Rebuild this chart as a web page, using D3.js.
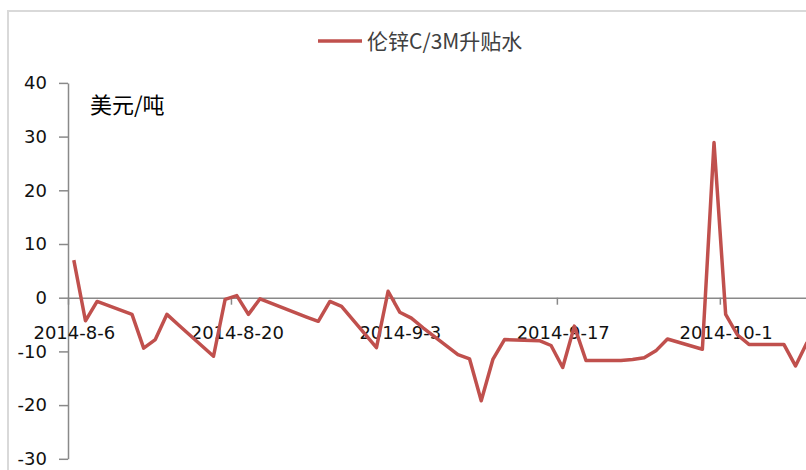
<!DOCTYPE html>
<html>
<head>
<meta charset="utf-8">
<script src="https://cdn.jsdelivr.net/npm/d3@7"></script>
<style>
    body { margin: 0; background: #fff; }
    svg { display: block; }
</style>
</head>
<body>
<div class="forSvg"></div>
<script>
// -DATA-
// trading days (LME)
const dates = ["2014-8-6", "2014-8-7", "2014-8-8", "2014-8-11", "2014-8-12", "2014-8-13", "2014-8-14", "2014-8-15",
               "2014-8-18", "2014-8-19", "2014-8-20", "2014-8-21", "2014-8-22", "2014-8-26", "2014-8-27", "2014-8-28",
               "2014-8-29", "2014-9-1", "2014-9-2", "2014-9-3", "2014-9-4", "2014-9-5", "2014-9-8", "2014-9-9",
               "2014-9-10", "2014-9-11", "2014-9-12", "2014-9-15", "2014-9-16", "2014-9-17", "2014-9-18", "2014-9-19",
               "2014-9-22", "2014-9-23", "2014-9-24", "2014-9-25", "2014-9-26", "2014-9-29", "2014-9-30", "2014-10-1",
               "2014-10-2", "2014-10-3", "2014-10-6", "2014-10-7", "2014-10-8"]

// 伦锌C/3M升贴水 (美元/吨)
const spread = [7, -4.3, -0.7, -3.1, -9.4, -7.8, -3.1, -5.1,
                -10.9, -0.3, 0.4, -3.1, -0.2, -3.6, -4.4, -0.7,
                -1.6, -9.3, 1.2, -2.7, -3.8, -5.6, -10.6, -11.4,
                -19.2, -11.5, -7.8, -8, -8.9, -13, -5.3, -11.7,
                -11.7, -11.5, -11.2, -9.9, -7.7, -9.6, 28.9, -3.1,
                -6.9, -8.7, -8.7, -12.7, -8.3]

// tick labels
const xTicks = ["2014-8-6", "2014-8-20", "2014-9-3", "2014-9-17", "2014-10-1"]
const yTicks = [-30, -20, -10, 0, 10, 20, 30, 40]

const seriesName = "伦锌C/3M升贴水"
const unitLabel = "美元/吨"

// -CREATE VARIABLES-
const svg_w = 806;
const svg_h = 470;
const lineColor = "#c0504d";
const axisColor = "#898989";
const dayW = 11.64;   // px per day on the date axis

const parseDay = d3.timeParse("%Y-%-m-%-d");
const noon = (d) => d3.timeHour.offset(parseDay(d), 12);

const data = dates.map((d, i) => ({ date: noon(d), value: spread[i] }));

const x0 = parseDay("2014-8-6");
const x1 = parseDay("2014-10-12");
const x = d3.scaleTime()
            .domain([x0, x1])
            .range([68, 68 + d3.timeDay.count(x0, x1) * dayW]);

const y = d3.scaleLinear()
            .domain([-30, 40])
            .range([458.8, 82.9]);

const svg = d3.select(".forSvg")
                .append("svg")
                .attr("width", svg_w)
                .attr("height", svg_h);

// chart frame
svg.append("rect")
    .attr("x", 8)
    .attr("y", 11)
    .attr("width", 900)
    .attr("height", 600)
    .attr("fill", "none")
    .attr("stroke", "#d9d9d9")
    .attr("stroke-width", 2);

// -AXES-
const yAxis = svg.append("g")
                .attr("transform", "translate(68,0)")
                .call(d3.axisLeft(y)
                        .tickValues(yTicks)
                        .tickSize(9)
                        .tickSizeOuter(0)
                        .tickPadding(12)
                        .tickFormat((d) => d));

const xAxis = svg.append("g")
                .attr("transform", "translate(0," + y(0) + ")")
                .call(d3.axisBottom(x)
                        .tickValues(xTicks.map(parseDay))
                        .tickSize(7)
                        .tickSizeOuter(0)
                        .tickFormat(d3.timeFormat("%Y-%-m-%-d")));

svg.selectAll(".domain, .tick line")
    .attr("stroke", axisColor)
    .attr("stroke-width", 1.5);

svg.selectAll(".tick text")
    .attr("fill", "#111")
    .style("font-family", "'DejaVu Sans', sans-serif")
    .style("font-size", "18px");

// labels sit in the middle of the day
xAxis.selectAll(".tick text")
    .attr("x", dayW / 2)
    .attr("y", 41)
    .attr("dy", 0);

// -LINE-
const line = d3.line()
                .x((d) => x(d.date))
                .y((d) => y(d.value));

svg.append("path")
    .datum(data)
    .attr("d", line)
    .attr("fill", "none")
    .attr("stroke", lineColor)
    .attr("stroke-width", 3.5)
    .attr("stroke-linejoin", "round");

// -TEXTS-
svg.append("text")
    .attr("x", 90)
    .attr("y", 113)
    .style("font-family", "'Noto Sans CJK SC', sans-serif")
    .style("font-size", "22px")
    .attr("fill", "#000")
    .text(unitLabel);

// legend
const legend = svg.append("g")
                .attr("id", "legend");

legend.append("line")
    .attr("x1", 318)
    .attr("x2", 362)
    .attr("y1", 41)
    .attr("y2", 41)
    .attr("stroke", lineColor)
    .attr("stroke-width", 3.5);

legend.append("text")
    .attr("x", 367)
    .attr("y", 49)
    .style("font-family", "'Noto Sans CJK SC', sans-serif")
    .style("font-size", "21px")
    .attr("fill", "#404040")
    .text(seriesName);
</script>
</body>
</html>
